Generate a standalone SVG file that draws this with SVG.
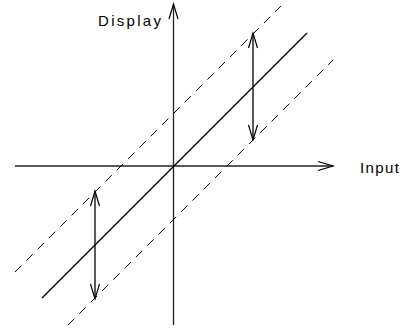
<svg xmlns="http://www.w3.org/2000/svg" width="415" height="329" viewBox="0 0 415 329">
<style>
.ax{stroke:#222;stroke-width:1.3;fill:none}
.ln{stroke:#000;stroke-width:1.3;fill:none}
.dash{stroke:#000;stroke-width:1;fill:none;stroke-dasharray:9 7}
.lbl{font-family:"Liberation Sans",Arial,sans-serif;font-size:15px;fill:#000}
</style>
<defs>
<marker id="ah" markerUnits="userSpaceOnUse" markerWidth="20" markerHeight="12" viewBox="-16 -6 18 12" refX="0" refY="0" orient="auto-start-reverse">
<path d="M-15,-4.5 L0,0 L-15,4.5" fill="none" stroke="#000" stroke-width="1.2"/>
</marker>
</defs>
<g id="connectors">
<line class="ax" x1="15" y1="166" x2="333" y2="166" marker-end="url(#ah)"/>
<line class="ax" x1="173.5" y1="325" x2="173.5" y2="4" marker-end="url(#ah)"/>
<line class="ln" x1="42" y1="298" x2="307" y2="33"/>
<line class="dash" x1="15" y1="272" x2="281" y2="6"/>
<line class="dash" x1="68" y1="325" x2="333" y2="60"/>
<line class="ln" x1="253" y1="33" x2="253" y2="140" marker-start="url(#ah)" marker-end="url(#ah)"/>
<line class="ln" x1="95" y1="191" x2="95" y2="299" marker-start="url(#ah)" marker-end="url(#ah)"/>
</g>
<g id="label-display"><text class="lbl" x="98" y="26" letter-spacing="2.3">Display</text></g>
<g id="label-input"><text class="lbl" x="360" y="173" letter-spacing="1.4">Input</text></g>
</svg>
